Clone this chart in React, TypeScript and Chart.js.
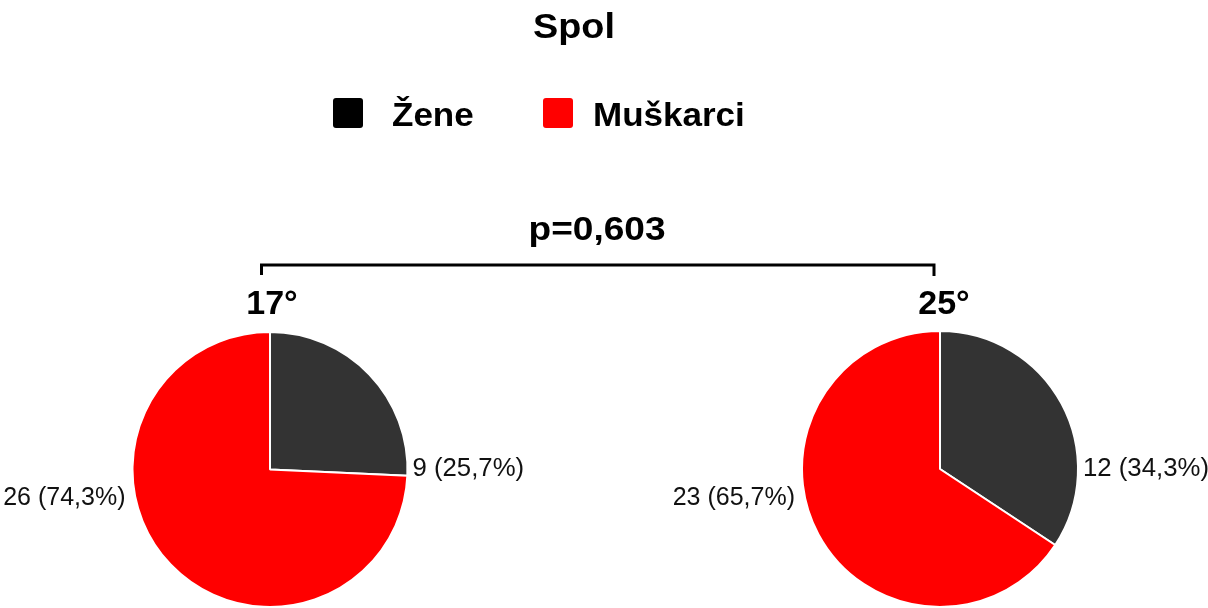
import React, { useEffect, useRef } from 'react';
import { Chart, registerables } from 'chart.js';

Chart.register(...registerables);

// ---- data ----
const categories = ['Žene', 'Muškarci'];
const groupLabels = ['17°', '25°'];
const counts17 = [9, 26];
const counts25 = [12, 23];
const sliceColors = ['#333333', '#FF0000'];
const legendColors = ['#000000', '#FF0000'];
const chartTitle = 'Spol';
const pValueText = 'p=0,603';

const W = 1208;
const H = 608;
const FONT = '"Liberation Sans", Arial, Helvetica, sans-serif';

function formatLabel(v: number, total: number): string {
  const pct = ((v / total) * 100).toFixed(1).replace('.', ',');
  return `${v} (${pct}%)`;
}

function drawText(ctx: any, text: string, x: number, y: number, font: string, align: string, sx: number) {
  ctx.save();
  ctx.font = font;
  ctx.textAlign = align;
  ctx.translate(x, y);
  ctx.scale(sx, 1);
  ctx.fillText(text, 0, 0);
  ctx.restore();
}

const sliceLabelPlugin = {
  id: 'sliceLabels',
  afterDatasetsDraw(chart: any) {
    const ctx = chart.ctx;
    const meta = chart.getDatasetMeta(0);
    const data: number[] = chart.data.datasets[0].data;
    const total = data.reduce((a, b) => a + b, 0);
    ctx.save();
    ctx.fillStyle = '#111111';
    ctx.textBaseline = 'middle';
    meta.data.forEach((arc: any, i: number) => {
      const { x, y, outerRadius } = arc.getProps(['x', 'y', 'outerRadius'], true);
      const text = formatLabel(data[i], total);
      if (i === 0) {
        drawText(ctx, text, x + outerRadius + 5, y, `25px ${FONT}`, 'left', 1.03);
      } else {
        drawText(ctx, text, x - outerRadius - 7, y + 29, `25px ${FONT}`, 'right', 1.0);
      }
    });
    ctx.restore();
  },
};

const annotationPlugin = {
  id: 'annotations',
  afterDraw(chart: any) {
    const ctx = chart.ctx;
    ctx.save();
    ctx.fillStyle = '#000000';
    ctx.textBaseline = 'alphabetic';

    // title
    drawText(ctx, chartTitle, 574, 38, `bold 35px ${FONT}`, 'center', 1.08);

    // legend
    const boxX = [333, 543];
    const textX = [392, 593];
    categories.forEach((c, i) => {
      ctx.fillStyle = legendColors[i];
      ctx.beginPath();
      (ctx as any).roundRect(boxX[i], 98, 30, 30, 3);
      ctx.fill();
      ctx.fillStyle = '#000000';
      drawText(ctx, c, textX[i], 126, `bold 34px ${FONT}`, 'left', 1.03);
    });

    // p-value
    drawText(ctx, pValueText, 597, 240, `bold 34px ${FONT}`, 'center', 1.09);

    // bracket
    ctx.strokeStyle = '#000000';
    ctx.lineWidth = 3;
    ctx.lineCap = 'butt';
    ctx.lineJoin = 'miter';
    ctx.beginPath();
    ctx.moveTo(261.5, 275);
    ctx.lineTo(261.5, 265);
    ctx.lineTo(934, 265);
    ctx.lineTo(934, 276);
    ctx.stroke();

    // group labels
    drawText(ctx, groupLabels[0], 272, 314, `bold 34px ${FONT}`, 'center', 1.0);
    drawText(ctx, groupLabels[1], 944, 314, `bold 34px ${FONT}`, 'center', 1.0);

    ctx.restore();
  },
};

function makeConfig(values: number[], padding: any, extra: any[]) {
  return {
    type: 'pie' as const,
    data: {
      labels: categories,
      datasets: [
        {
          data: values,
          backgroundColor: sliceColors,
          borderColor: '#FFFFFF',
          borderWidth: 2,
        },
      ],
    },
    options: {
      responsive: false,
      animation: false as const,
      layout: { padding },
      plugins: {
        legend: { display: false },
        title: { display: false },
        tooltip: { enabled: false },
      },
    },
    plugins: [sliceLabelPlugin, ...extra],
  };
}

export default function App() {
  const leftRef = useRef<HTMLCanvasElement | null>(null);
  const rightRef = useRef<HTMLCanvasElement | null>(null);

  useEffect(() => {
    const c1 = new Chart(
      leftRef.current as HTMLCanvasElement,
      makeConfig(counts17, { left: 131, right: W - 409, top: 331, bottom: -1 }, [annotationPlugin]) as any
    );
    const c2 = new Chart(
      rightRef.current as HTMLCanvasElement,
      makeConfig(counts25, { left: 800, right: W - 1080, top: 330, bottom: -2 }, []) as any
    );
    return () => {
      c1.destroy();
      c2.destroy();
    };
  }, []);

  const canvasStyle: React.CSSProperties = {
    position: 'absolute',
    left: 0,
    top: 0,
    width: W,
    height: H,
  };

  return (
    <div
      style={{
        position: 'fixed',
        left: 0,
        top: 0,
        width: W,
        height: H,
        background: '#FFFFFF',
        overflow: 'hidden',
      }}
    >
      <canvas ref={leftRef} width={W} height={H} style={canvasStyle} />
      <canvas ref={rightRef} width={W} height={H} style={canvasStyle} />
    </div>
  );
}
